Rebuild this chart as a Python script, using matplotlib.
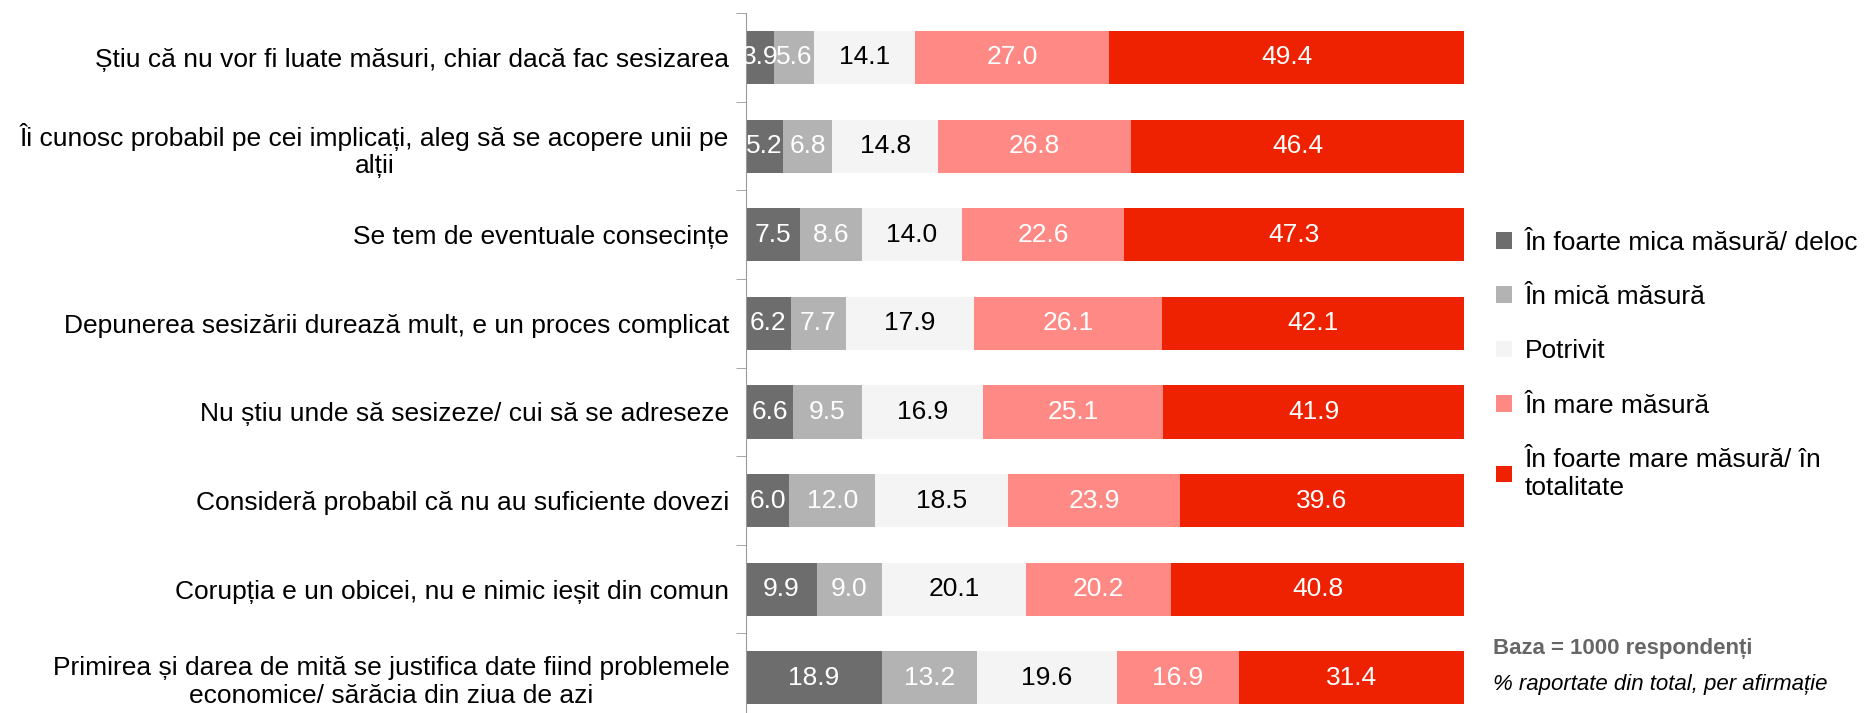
import matplotlib.pyplot as plt
from matplotlib import font_manager

names = {f.name for f in font_manager.fontManager.ttflist}
NARROW = "Liberation Sans Narrow" if "Liberation Sans Narrow" in names else "Liberation Sans"
plt.rcParams["font.family"] = ["Liberation Sans", "DejaVu Sans"]

categories = [
    "Știu că nu vor fi luate măsuri, chiar dacă fac sesizarea",
    "Îi cunosc probabil pe cei implicați, aleg să se acopere unii pe\nalții",
    "Se tem de eventuale consecințe",
    "Depunerea sesizării durează mult, e un proces complicat",
    "Nu știu unde să sesizeze/ cui să se adreseze",
    "Consideră probabil că nu au suficiente dovezi",
    "Corupția e un obicei, nu e nimic ieșit din comun",
    "Primirea și darea de mită se justifica date fiind problemele\neconomice/ sărăcia din ziua de azi",
]
series = [
    "În foarte mica măsură/ deloc",
    "În mică măsură",
    "Potrivit",
    "În mare măsură",
    "În foarte mare măsură/ în\ntotalitate",
]
foarte_mica = [3.9, 5.2, 7.5, 6.2, 6.6, 6.0, 9.9, 18.9]
mica = [5.6, 6.8, 8.6, 7.7, 9.5, 12.0, 9.0, 13.2]
potrivit = [14.1, 14.8, 14.0, 17.9, 16.9, 18.5, 20.1, 19.6]
mare = [27.0, 26.8, 22.6, 26.1, 25.1, 23.9, 20.2, 16.9]
foarte_mare = [49.4, 46.4, 47.3, 42.1, 41.9, 39.6, 40.8, 31.4]

values = [foarte_mica, mica, potrivit, mare, foarte_mare]
colors = ["#6d6d6d", "#b3b3b3", "#f4f4f4", "#ff8a85", "#ee2200"]
text_colors = ["white", "white", "black", "white", "white"]

fig = plt.figure(figsize=(18.66, 7.13), dpi=100)
# axes run a little past the bottom edge, as in the original
ax = fig.add_axes([0.3998, -0.0127, 0.3848, 0.9942])

y = list(range(len(categories)))
left = [0.0] * len(categories)
for vals, col, tcol, name in zip(values, colors, text_colors, series):
    ax.barh(y, vals, left=left, height=0.6, color=col, label=name)
    for yi, l, v in zip(y, left, vals):
        ax.text(l + v / 2, yi, f"{v:.1f}", ha="center", va="center",
                color=tcol, fontsize=19, family=NARROW)
    left = [a + b for a, b in zip(left, vals)]

ax.set_xlim(0, 100)
ax.set_ylim(len(categories) - 0.5, -0.5)
ax.set_xticks([])
ax.set_yticks(y)
ax.set_yticklabels(categories, fontsize=19, family=NARROW,
                   multialignment="center")
ax.set_yticks([i - 0.5 for i in range(len(categories) + 1)], minor=True)
ax.tick_params(axis="y", which="major", length=0, pad=12)
ax.tick_params(axis="y", which="minor", length=7, color="#999999", direction="out")

for s in ["top", "right", "bottom"]:
    ax.spines[s].set_visible(False)
ax.spines["left"].set_color("#999999")

fig.legend(loc="upper left", bbox_to_anchor=(0.789, 0.710), frameon=False,
           fontsize=19, handlelength=0.6, handleheight=0.6,
           handletextpad=0.5, labelspacing=1.15)

fig.text(0.800, 0.090, "Baza = 1000 respondenți", fontsize=16, weight="bold",
         color="#666666", va="center")
fig.text(0.800, 0.040, "% raportate din total, per afirmație", fontsize=16,
         style="italic", color="black", va="center")

fig.savefig("out.png", dpi=100)
